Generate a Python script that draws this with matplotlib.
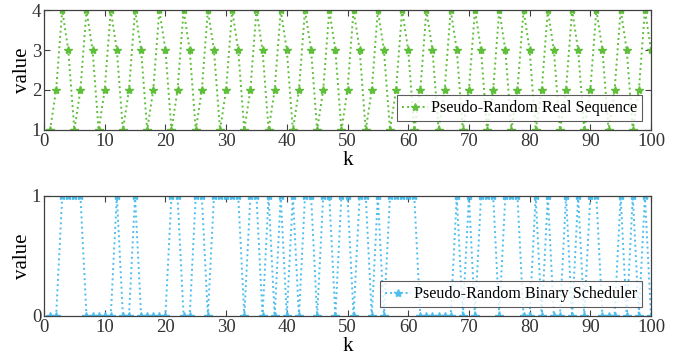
import numpy as np
import matplotlib
matplotlib.use("Agg")
import matplotlib.pyplot as plt

plt.rcParams['font.family'] = ['Liberation Serif', 'DejaVu Serif']

k = list(range(1, 101))
real_pattern = [1, 2, 4, 3]
real_seq = real_pattern * 25
binary_seq = [0, 0, 1, 1, 1, 1, 0, 0, 0, 0,
              0, 1, 0, 0, 1, 0, 0, 0, 0, 0,
              1, 1, 0, 0, 1, 1, 0, 1, 1, 1,
              1, 1, 0, 1, 1, 0, 1, 0, 1, 0,
              1, 0, 1, 1, 0, 1, 1, 0, 1, 1,
              0, 1, 1, 0, 1, 0, 1, 1, 1, 1,
              1, 0, 0, 0, 0, 0, 0, 1, 0, 1,
              0, 1, 1, 1, 0, 1, 1, 1, 0, 0,
              1, 0, 1, 0, 0, 1, 0, 1, 0, 1,
              1, 0, 0, 0, 1, 0, 1, 0, 1, 0]
xticks = list(range(0, 101, 10))

green = '#5fbf3a'
blue = '#4dbeee'
axcol = '#404040'

fig = plt.figure(figsize=(6.77, 3.64), dpi=100)
W, H = 677, 364
ax1 = fig.add_axes([44 / W, 1 - 130 / H, (651 - 44) / W, 120 / H])
ax2 = fig.add_axes([44 / W, 1 - 316 / H, (651 - 44) / W, 120 / H])

def style(ax):
    ax.set_xlim(0, 100)
    ax.set_xticks(xticks)
    ax.tick_params(direction='in', top=True, right=True, labelsize=13.5,
                   colors=axcol, length=4, width=0.8, pad=2)
    for t in ax.get_xticklabels() + ax.get_yticklabels():
        t.set_color('#333333')
    for s in ax.spines.values():
        s.set_color(axcol)
        s.set_linewidth(0.9)
    ax.set_xlabel('k', fontsize=15, labelpad=1)
    ax.set_ylabel('value', fontsize=15, labelpad=0)

def legend(ax):
    leg = ax.legend(loc='lower right', fontsize=11.6, frameon=True, fancybox=False,
                    borderpad=0.3, handlelength=1.6, handletextpad=0.2,
                    borderaxespad=0, bbox_to_anchor=(0.985, 0.075))
    leg.get_frame().set_edgecolor('#333333')
    leg.get_frame().set_linewidth(0.8)

ax1.plot(k, real_seq, linestyle=':', color=green, marker='*', markersize=6,
         linewidth=1.4, label='Pseudo-Random Real Sequence')
ax1.set_ylim(1, 4)
ax1.set_yticks([1, 2, 3, 4])
style(ax1)
legend(ax1)

ax2.plot(k, binary_seq, linestyle=':', color=blue, marker='*', markersize=6,
         linewidth=1.4, label='Pseudo-Random Binary Scheduler')
ax2.set_ylim(0, 1)
ax2.set_yticks([0, 1])
style(ax2)
legend(ax2)

fig.savefig('out.png', dpi=100)
